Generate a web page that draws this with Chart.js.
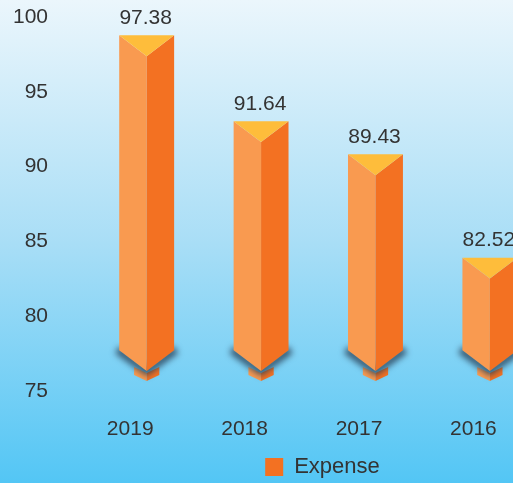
<!DOCTYPE html>
<html>
<head>
<meta charset="utf-8">
<script src="https://cdn.jsdelivr.net/npm/chart.js@4.4.1/dist/chart.umd.min.js"></script>
<style>
  html, body { margin: 0; padding: 0; }
  body { width: 513px; height: 483px; overflow: hidden;
         background: linear-gradient(to bottom, #EBF6FC 0%, #A9DEF6 50%, #53C6F5 100%); }
  #wrap { width: 513px; height: 483px; overflow: hidden; }
  canvas { display: block; }
</style>
</head>
<body>
<div id="wrap"><canvas id="c" width="645" height="483"></canvas></div>
<script>
const categories = ['2019', '2018', '2017', '2016'];
const expense = [97.38, 91.64, 89.43, 82.52];
const yTicks = [75, 80, 85, 90, 95, 100];
const seriesName = 'Expense';

const FONT = '"Liberation Sans", Arial, sans-serif';
const TEXT = '#333333';
const C_LEFT = '#F99A50';
const C_RIGHT = '#F37122';
const C_TOP = '#FEBD3B';

function poly(ctx, pts, color) {
  ctx.beginPath();
  ctx.moveTo(pts[0][0], pts[0][1]);
  for (let i = 1; i < pts.length; i++) ctx.lineTo(pts[i][0], pts[i][1]);
  ctx.closePath();
  ctx.fillStyle = color;
  ctx.fill();
}

const prismPlugin = {
  id: 'prism',
  beforeDatasetDraw(chart, args) {
    const ctx = chart.ctx;
    const meta = args.meta;
    const base = chart.scales.y.getPixelForValue(yTicks[0]);
    ctx.save();
    meta.data.forEach((bar, i) => {
      const hw = bar.width / 2;
      const cx = bar.x + bar.width * 0.3;
      const L = cx - hw, R = cx + hw;
      const d = hw * 0.76;
      const tv = bar.y;
      const tc = tv - d;
      const bv = base - 20;
      const bc = bv - d;

      // small cube
      const hw2 = hw * 0.46;
      const L2 = cx - hw2, R2 = cx + hw2;
      const ctc = base - 24, ctv = base - 18;
      const cbc = base - 16, cbv = base - 10;
      poly(ctx, [[L2, ctc], [cx, ctv], [cx, cbv], [L2, cbc]], C_LEFT);
      poly(ctx, [[cx, ctv], [R2, ctc], [R2, cbc], [cx, cbv]], C_RIGHT);

      // shadow
      ctx.save();
      ctx.filter = 'blur(3px)';
      poly(ctx, [[L, bc - 4], [cx, bv - 4], [R, bc - 4], [R + 4, bc + 3], [cx, bv + 5], [L - 4, bc + 3]], 'rgba(40,62,85,0.85)');
      ctx.restore();

      // faces
      poly(ctx, [[L, tc], [cx, tv], [cx, bv], [L, bc]], C_LEFT);
      poly(ctx, [[cx, tv], [R, tc], [R, bc], [cx, bv]], C_RIGHT);
      poly(ctx, [[L, tc], [R, tc], [cx, tv]], C_TOP);

      // value label
      ctx.fillStyle = TEXT;
      ctx.font = '21px ' + FONT;
      ctx.textAlign = 'center';
      ctx.textBaseline = 'middle';
      ctx.fillText(expense[i].toFixed(2), cx - 1, tc - 17);
    });
    ctx.restore();
    return false;
  }
};

new Chart(document.getElementById('c'), {
  type: 'bar',
  data: {
    labels: [...categories, ''],
    datasets: [{
      label: seriesName,
      data: expense,
      backgroundColor: C_RIGHT,
      borderWidth: 0,
      barPercentage: 0.6,
      categoryPercentage: 0.8
    }]
  },
  options: {
    responsive: false,
    animation: false,
    layout: { padding: { top: 0, bottom: -5, left: 0, right: 0 } },
    scales: {
      y: {
        min: yTicks[0],
        max: yTicks[yTicks.length - 1],
        afterBuildTicks(s) { s.ticks = yTicks.map(v => ({ value: v })); },
        afterFit(s) { s.width = 73; s.paddingTop = 17; s.paddingBottom = 0; },
        ticks: { padding: 25, color: TEXT, font: { family: FONT, size: 21 } },
        grid: { display: false, drawTicks: false },
        border: { display: false }
      },
      x: {
        afterFit(s) { s.height = 64; },
        ticks: { padding: 26, color: TEXT, font: { family: FONT, size: 21 }, maxRotation: 0 },
        grid: { display: false, drawTicks: false },
        border: { display: false }
      }
    },
    plugins: {
      legend: {
        position: 'bottom',
        labels: {
          boxWidth: 18, boxHeight: 18, padding: 1,
          color: TEXT, font: { family: FONT, size: 22 }
        }
      },
      tooltip: { enabled: false }
    }
  },
  plugins: [prismPlugin]
});
</script>
</body>
</html>
